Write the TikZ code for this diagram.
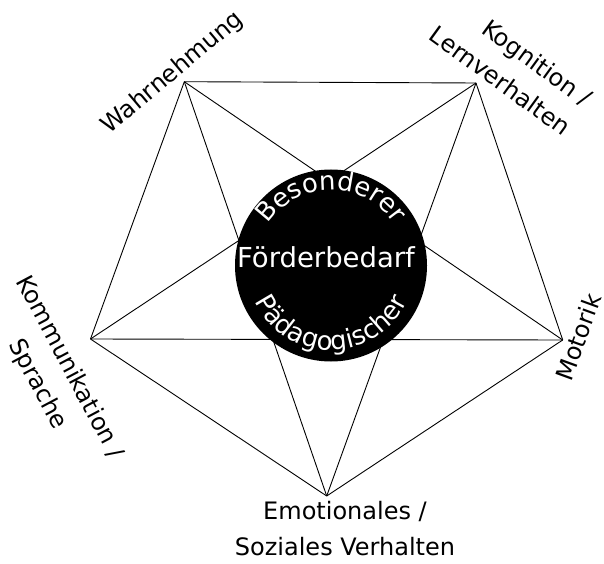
\documentclass[tikz,border=0pt]{standalone}
\usepackage{fontspec}
\setmainfont{DejaVu Sans}
\usetikzlibrary{decorations.text}
\begin{document}
\begin{tikzpicture}[x=1pt,y=1pt,
  edge/.style={line width=0.9pt, black},
  lab/.style={font=\fontsize{24}{36}\selectfont, inner sep=0pt},
  hub/.style={circle, fill=black, minimum size=192pt, inner sep=0pt},
]
\useasboundingbox (0,0) rectangle (604,563);
\coordinate (W) at (184.3,481.3);
\coordinate (K) at (476,480);
\coordinate (M) at (562.7,223);
\coordinate (E) at (326.7,67);
\coordinate (S) at (90.5,224);
\foreach \a/\b in {W/K,K/M,M/E,E/S,S/W,W/M,W/E,K/E,K/S,M/S}
  \draw[edge] (\a) -- (\b);
\node[hub] (C) at (331,297.5) {};
\node[text=white, font=\fontsize{27.5}{30}\selectfont, inner sep=0pt, anchor=base] (F) at (326,296) {Förderbedarf};
\path[decorate, decoration={text along path, text align=center,
  text={|\fontsize{26}{30}\selectfont\color{white}|Besonderer}}]
  ([shift={(180:75.5)}]C.center) arc[start angle=180, end angle=0, radius=75.5];
\path[decorate, decoration={text along path, text align=center,
  text={|\fontsize{26}{30}\selectfont\color{white}|Pädagogischer}}]
  ([shift={(180:84.5)}]C.center) arc[start angle=180, end angle=360, radius=84.5];
\node[lab, rotate=40] (lW) at (173,490) {Wahrnehmung};
\node[lab, rotate=-36, align=right] (lK) at (511,497) {Kognition /\\Lernverhalten};
\node[lab, rotate=70] (lM) at (578,226) {Motorik};
\node[lab, align=center] (lE) at (345,34) {Emotionales /\\Soziales Verhalten};
\node[lab, rotate=-62, align=center] (lS) at (53,187) {Kommunikation /\\Sprache};
\end{tikzpicture}
\end{document}
